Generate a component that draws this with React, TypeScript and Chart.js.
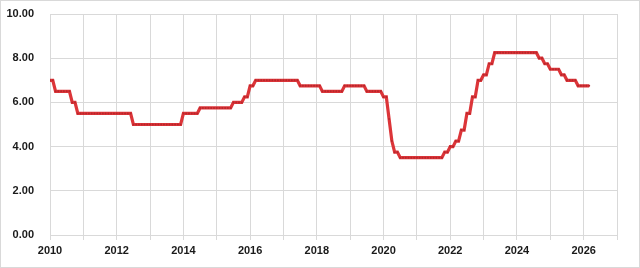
import React, { useEffect, useRef } from "react";
import { Chart, registerables } from "chart.js";

Chart.register(...registerables);

// Monthly rate values (Jan..Dec) per year
const startYear = 2010;
const y2010 = [7.0, 7.0, 6.5, 6.5, 6.5, 6.5, 6.5, 6.5, 6.0, 6.0, 5.5, 5.5];
const y2011 = [5.5, 5.5, 5.5, 5.5, 5.5, 5.5, 5.5, 5.5, 5.5, 5.5, 5.5, 5.5];
const y2012 = [5.5, 5.5, 5.5, 5.5, 5.5, 5.5, 5.0, 5.0, 5.0, 5.0, 5.0, 5.0];
const y2013 = [5.0, 5.0, 5.0, 5.0, 5.0, 5.0, 5.0, 5.0, 5.0, 5.0, 5.0, 5.0];
const y2014 = [5.5, 5.5, 5.5, 5.5, 5.5, 5.5, 5.75, 5.75, 5.75, 5.75, 5.75, 5.75];
const y2015 = [5.75, 5.75, 5.75, 5.75, 5.75, 5.75, 6.0, 6.0, 6.0, 6.0, 6.25, 6.25];
const y2016 = [6.75, 6.75, 7.0, 7.0, 7.0, 7.0, 7.0, 7.0, 7.0, 7.0, 7.0, 7.0];
const y2017 = [7.0, 7.0, 7.0, 7.0, 7.0, 7.0, 6.75, 6.75, 6.75, 6.75, 6.75, 6.75];
const y2018 = [6.75, 6.75, 6.5, 6.5, 6.5, 6.5, 6.5, 6.5, 6.5, 6.5, 6.75, 6.75];
const y2019 = [6.75, 6.75, 6.75, 6.75, 6.75, 6.75, 6.5, 6.5, 6.5, 6.5, 6.5, 6.5];
const y2020 = [6.25, 6.25, 5.25, 4.25, 3.75, 3.75, 3.5, 3.5, 3.5, 3.5, 3.5, 3.5];
const y2021 = [3.5, 3.5, 3.5, 3.5, 3.5, 3.5, 3.5, 3.5, 3.5, 3.5, 3.75, 3.75];
const y2022 = [4.0, 4.0, 4.25, 4.25, 4.75, 4.75, 5.5, 5.5, 6.25, 6.25, 7.0, 7.0];
const y2023 = [7.25, 7.25, 7.75, 7.75, 8.25, 8.25, 8.25, 8.25, 8.25, 8.25, 8.25, 8.25];
const y2024 = [8.25, 8.25, 8.25, 8.25, 8.25, 8.25, 8.25, 8.25, 8.0, 8.0, 7.75, 7.75];
const y2025 = [7.5, 7.5, 7.5, 7.5, 7.25, 7.25, 7.0, 7.0, 7.0, 7.0, 6.75, 6.75];
const y2026 = [6.75, 6.75, 6.75];

const yearly = [y2010, y2011, y2012, y2013, y2014, y2015, y2016, y2017, y2018, y2019, y2020, y2021, y2022, y2023, y2024, y2025, y2026];

const xMin = 2010;
const xMax = 2027;
const yMin = 0;
const yMax = 10;
const yStep = 2;

export default function App() {
  const ref = useRef<HTMLCanvasElement | null>(null);

  useEffect(() => {
    document.body.style.margin = "0";
    const points: { x: number; y: number }[] = [];
    yearly.forEach((vals, yi) => {
      vals.forEach((v, m) => points.push({ x: startYear + yi + m / 12, y: v }));
    });
    const grid = "#d9d9d9";
    const font = { family: "'Liberation Sans', Arial, sans-serif", size: 11, weight: "bold" as const };
    const chart = new Chart(ref.current!, {
      type: "line",
      data: {
        datasets: [
          {
            data: points,
            borderColor: "#dc3539",
            borderWidth: 3.2,
            pointRadius: 1,
            pointBackgroundColor: "#b8262b",
            pointBorderWidth: 0,
            tension: 0,
          },
        ],
      },
      options: {
        animation: false,
        responsive: false,
        maintainAspectRatio: false,
        layout: { padding: { left: 0, right: 23, top: 14, bottom: 0 } },
        plugins: { legend: { display: false }, tooltip: { enabled: false } },
        scales: {
          x: {
            type: "linear",
            min: xMin,
            max: xMax,
            afterFit: (s: any) => { s.height = 33; },
            afterBuildTicks: (s: any) => {
              const t = [];
              for (let v = xMin; v <= xMax; v++) t.push({ value: v });
              s.ticks = t;
            },
            ticks: {
              autoSkip: false,
              maxRotation: 0,
              padding: 4,
              color: "#1a1a1a",
              font,
              callback: (v: any) => (Number(v) % 2 === 0 && Number(v) < xMax ? String(v) : ""),
            },
            grid: { color: grid, lineWidth: 1, tickLength: 5, drawTicks: true },
            border: { color: grid },
          },
          y: {
            min: yMin,
            max: yMax,
            afterFit: (s: any) => { s.width = 50; },
            ticks: {
              stepSize: yStep,
              padding: 2,
              color: "#1a1a1a",
              font,
              callback: (v: any) => Number(v).toFixed(2),
            },
            grid: { color: grid, lineWidth: 1, drawTicks: true, tickLength: 14, tickColor: "rgba(0,0,0,0)" },
            border: { color: grid },
          },
        },
      },
    });
    return () => chart.destroy();
  }, []);

  return (
    <div style={{ position: "relative", width: 640, height: 268 }}>
      <canvas ref={ref} width={640} height={268} style={{ display: "block" }} />
      <div
        style={{
          position: "absolute",
          left: 0,
          top: 0,
          width: 640,
          height: 268,
          boxSizing: "border-box",
          border: "1px solid #d9d9d9",
          pointerEvents: "none",
        }}
      />
    </div>
  );
}
